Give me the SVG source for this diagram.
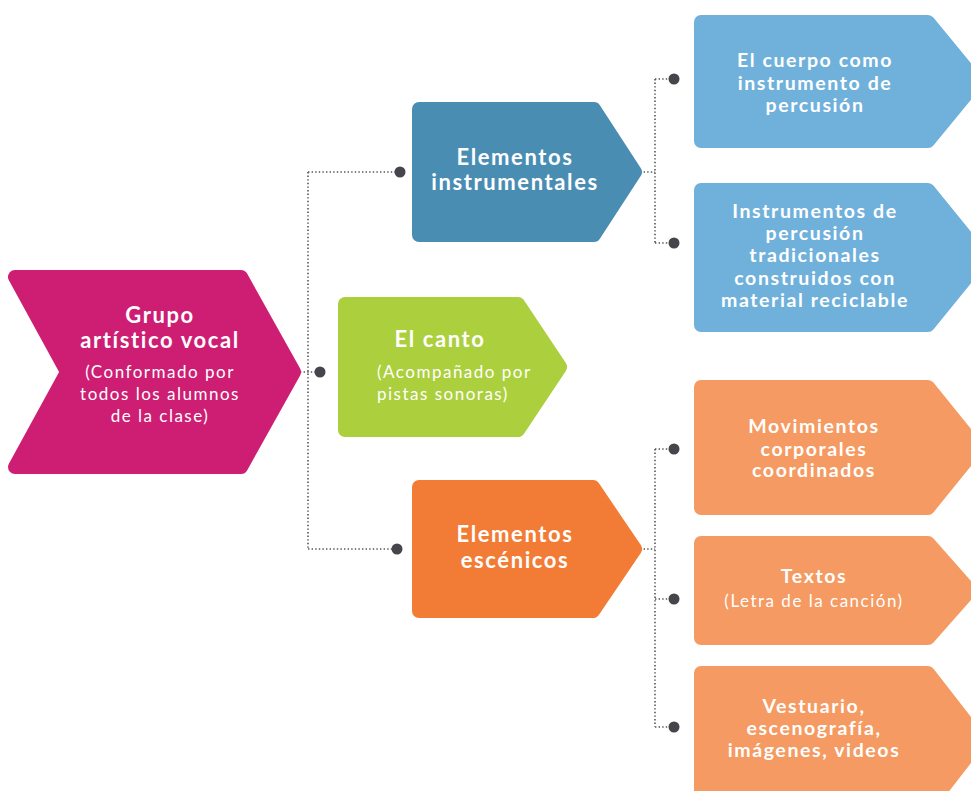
<svg xmlns="http://www.w3.org/2000/svg" width="971" height="791" viewBox="0 0 971 791">
<style>
.shape{stroke-width:14;stroke-linejoin:round}
.pink{fill:#CD1E73;stroke:#CD1E73}
.blue{fill:#4A8DB3;stroke:#4A8DB3}
.lblue{fill:#70B1DB;stroke:#70B1DB}
.green{fill:#ABCF3D;stroke:#ABCF3D}
.orange{fill:#F27B35;stroke:#F27B35}
.lorange{fill:#F59A62;stroke:#F59A62}
.t{font-family:Lato,"Noto Sans",sans-serif;fill:#fff;text-anchor:middle}
.b1{font-weight:700;font-size:22px;letter-spacing:1.6px}
.b2{font-weight:700;font-size:19.5px;letter-spacing:1.6px}
.s1{font-weight:400;font-size:17px;letter-spacing:1.5px}
.dl{fill:none;stroke:#555;stroke-width:1.6;stroke-dasharray:1.4 2.2}
.dot{fill:#46454B}
</style>
<rect width="971" height="791" fill="#fff"/>
<g id="connectors">
<path class="dl" d="M300,372H320M308,172V549M308,172H400M308,549H397"/>
<path class="dl" d="M640,172H655M655,79V243M655,79H674M655,243H674"/>
<path class="dl" d="M640,549H655M655,449V727M655,449H674M655,599H674M655,727H674"/>
<circle class="dot" cx="320" cy="372" r="5.5"/>
<circle class="dot" cx="400" cy="172" r="5.5"/>
<circle class="dot" cx="397" cy="549" r="5.5"/>
<circle class="dot" cx="674" cy="79" r="5.5"/>
<circle class="dot" cx="674" cy="243" r="5.5"/>
<circle class="dot" cx="674" cy="449" r="5.5"/>
<circle class="dot" cx="674" cy="599" r="5.5"/>
<circle class="dot" cx="674" cy="727" r="5.5"/>
</g>
<g id="grupo">
<polygon class="shape pink" points="15,277 241,277 294,372 241,467 15,467 67,372"/>
<text class="t b1" x="160" y="323">Grupo</text>
<text class="t b1" x="160" y="348">artístico vocal</text>
<text class="t s1" x="160" y="378">(Conformado por</text>
<text class="t s1" x="160" y="400">todos los alumnos</text>
<text class="t s1" x="160" y="422">de la clase)</text>
</g>
<g id="instrumentales">
<polygon class="shape blue" points="419,109 594,109 635,172 594,235 419,235"/>
<text class="t b1" x="515" y="165">Elementos</text>
<text class="t b1" x="515" y="190">instrumentales</text>
</g>
<g id="canto">
<polygon class="shape green" points="345,304 518,304 560,367 518,430 345,430"/>
<text class="t b1" x="440" y="347">El canto</text>
<text class="t s1" x="377" y="378" style="text-anchor:start">(Acompañado por</text>
<text class="t s1" x="377" y="400" style="text-anchor:start">pistas sonoras)</text>
</g>
<g id="escenicos">
<polygon class="shape orange" points="419,487 593,487 635,549 593,611 419,611"/>
<text class="t b1" x="515" y="542">Elementos</text>
<text class="t b1" x="515" y="568">escénicos</text>
</g>
<g id="cuerpo">
<polygon class="shape lblue" points="701,22 928,22 977,81.5 928,141 701,141"/>
<text class="t b2" x="815" y="67">El cuerpo como</text>
<text class="t b2" x="815" y="90">instrumento de</text>
<text class="t b2" x="815" y="112">percusión</text>
</g>
<g id="tradicionales">
<polygon class="shape lblue" points="701,190 928,190 983,257.5 928,325 701,325"/>
<text class="t b2" x="815" y="218">Instrumentos de</text>
<text class="t b2" x="815" y="240">percusión</text>
<text class="t b2" x="815" y="262">tradicionales</text>
<text class="t b2" x="815" y="285">construidos con</text>
<text class="t b2" x="815" y="307">material reciclable</text>
</g>
<g id="movimientos">
<polygon class="shape lorange" points="701,387 928,387 977,447.5 928,508 701,508"/>
<text class="t b2" x="814" y="433">Movimientos</text>
<text class="t b2" x="814" y="456">corporales</text>
<text class="t b2" x="814" y="477">coordinados</text>
</g>
<g id="textos">
<polygon class="shape lorange" points="701,543 928,543 970,590.5 928,638 701,638"/>
<text class="t b2" x="814" y="583">Textos</text>
<text class="t s1" x="814" y="607">(Letra de la canción)</text>
</g>
<g id="vestuario">
<polygon class="shape lorange" points="701,673 928,673 980,740 928,807 701,807"/>
<text class="t b2" x="814" y="713">Vestuario,</text>
<text class="t b2" x="814" y="735">escenografía,</text>
<text class="t b2" x="814" y="757">imágenes, videos</text>
</g>
</svg>
